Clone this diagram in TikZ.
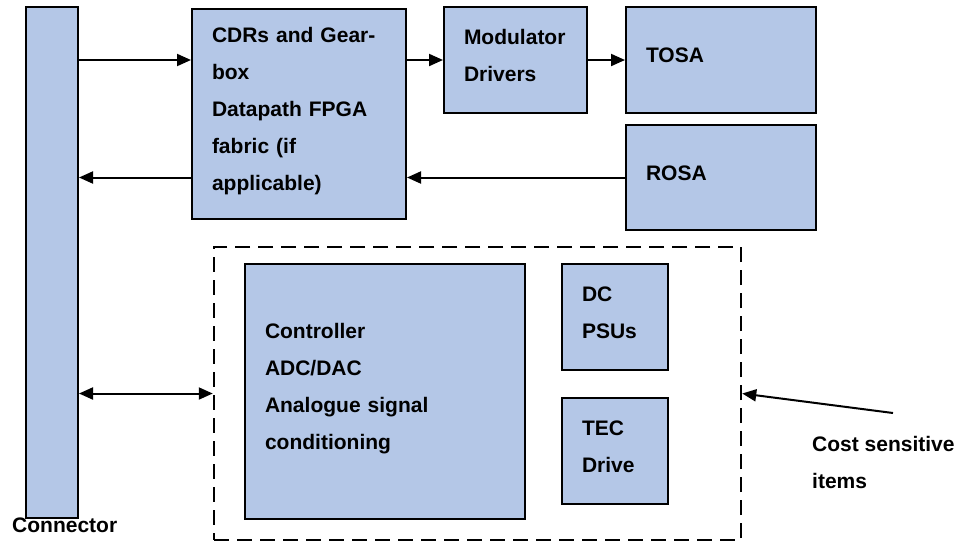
\documentclass[tikz,border=0pt]{standalone}
\usepackage{fontspec}
\setmainfont{Liberation Sans}
\usetikzlibrary{arrows.meta, calc}
\definecolor{bloccoblu}{RGB}{180,199,231}

\begin{document}
\begin{tikzpicture}[x=1pt, y=-1pt,
    blocco/.style = {draw, fill=bloccoblu, line width=2pt, inner xsep=20pt, inner ysep=0pt, align=left, font=\bfseries\fontsize{21}{37}\selectfont,
        execute at begin node={\rule{0pt}{16pt}}, execute at end node={\rule[-11pt]{0pt}{11pt}}},
    etichetta/.style = {inner sep=0pt, align=left, font=\bfseries\fontsize{21}{37}\selectfont},
    punta/.tip = {Triangle[length=14pt, width=12pt]},
    freccia/.style = {line width=2pt, -punta},
    ]
    \useasboundingbox (0,0) rectangle (974,542);
    % Connettore
    \node[blocco, minimum width=52pt, minimum height=511pt, inner xsep=0pt] (conn) at (52,262.5) {};
    \node[etichetta, anchor=base west] (connlbl) at (12,532) {Connector};
    % Percorso dati
    \node[blocco, text width=174pt, minimum height=210pt] (cdr) at (299,114) {CDRs and Gear-\\box\\Datapath FPGA\\fabric (if\\applicable)};
    \node[blocco, text width=103pt, minimum height=106pt] (mod) at (515.5,60) {Modulator\\Drivers};
    \node[blocco, text width=150pt, minimum height=106pt] (tosa) at (721,60) {TOSA};
    \node[blocco, text width=150pt, minimum height=105pt] (rosa) at (721,177.5) {ROSA};
    % Riquadro tratteggiato
    \node[draw, line width=2.5pt, dash pattern=on 15pt off 8pt, inner sep=0pt, minimum width=527pt, minimum height=293pt] (cost) at (477.5,393.5) {};
    \node[blocco, text width=240pt, minimum height=255pt] (ctrl) at (385,391.5) {Controller\\ADC/DAC\\Analogue signal\\conditioning};
    \node[blocco, text width=66pt, minimum height=106pt] (dc) at (615,317) {DC\\PSUs};
    \node[blocco, text width=66pt, minimum height=106pt] (tec) at (615,451) {TEC\\Drive};
    \node[etichetta, anchor=base west] (costlbl) at (812,488) {Cost sensitive\\items};
    \coordinate (costpt) at (893,413);
    % Frecce
    \draw[freccia] (conn.east |- mod.west) -- (cdr.west |- mod.west);
    \draw[freccia] (cdr.east |- mod.west) -- (mod.west);
    \draw[freccia] (mod.east) -- (tosa.west);
    \draw[freccia] (rosa.west) -- (cdr.east |- rosa.west);
    \draw[freccia] (cdr.west |- rosa.west) -- (conn.east |- rosa.west);
    \draw[freccia, punta-punta] (conn.east |- cost.west) -- (cost.west);
    \draw[freccia] (costpt) -- (cost.east);
\end{tikzpicture}
\end{document}
